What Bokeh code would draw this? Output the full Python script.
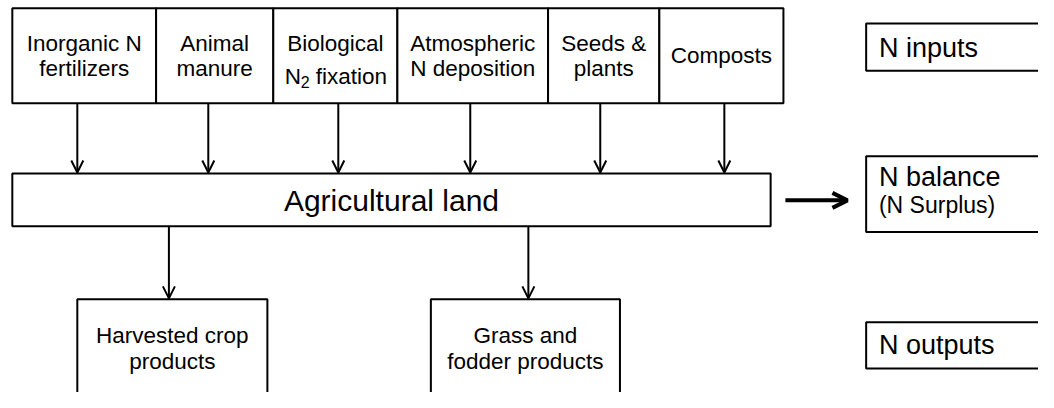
from bokeh.plotting import figure
from bokeh.models import Range1d, Arrow, OpenHead, ColumnDataSource
from bokeh.core.properties import value
from bokeh.embed import file_html
from bokeh.resources import INLINE

# ---- content ----
input_labels = ["Inorganic N\nfertilizers", "Animal\nmanure", "Biological\n", "Atmospheric\nN deposition",
                "Seeds &\nplants", "Composts"]
center_label = "Agricultural land"
output_labels = ["Harvested crop\nproducts", "Grass and\nfodder products"]
legend_labels = ["N inputs", "N balance", "N outputs"]
surplus_label = "(N Surplus)"

# ---- layout (pixel coordinates of the diagram) ----
input_edges = [12, 158, 277, 403, 556, 669, 795]
input_top, input_bottom = 8, 107
input_arrow_x = [78, 211, 343, 477, 609, 735]
land_box = (12, 782, 180, 235)
out_boxes = [(78, 271), (437, 629)]
out_top, out_bottom = 311, 430
out_arrow_x = [171, 536]
legend_x = (879, 1070)
legend_y = [(24, 73), (162, 241), (335, 383)]

FONT = value("Liberation Sans")
p = figure(width=1038, height=392, x_range=Range1d(0, 1054), y_range=Range1d(408, 0),
           output_backend="svg", toolbar_location=None, min_border=0)
p.axis.visible = False
p.grid.visible = False
p.outline_line_color = None
p.background_fill_color = "white"
p.border_fill_color = "white"

# boxes
lefts = input_edges[:-1] + [land_box[0]] + [b[0] for b in out_boxes] + [legend_x[0]] * 3
rights = input_edges[1:] + [land_box[1]] + [b[1] for b in out_boxes] + [legend_x[1]] * 3
tops = [input_top] * 6 + [land_box[2]] + [out_top] * 2 + [y[0] for y in legend_y]
bottoms = [input_bottom] * 6 + [land_box[3]] + [out_bottom] * 2 + [y[1] for y in legend_y]
p.quad(left=lefts, right=rights, top=tops, bottom=bottoms,
       fill_color="white", line_color="black", line_width=2)

# arrows
ax0 = input_arrow_x + out_arrow_x
ay0 = [input_bottom] * 6 + [land_box[3]] * 2
ay1 = [land_box[2] - 1] * 6 + [out_top - 1] * 2
src = ColumnDataSource(dict(x0=ax0, x1=ax0, y0=ay0, y1=ay1))
p.add_layout(Arrow(end=OpenHead(size=12, line_width=2, line_color="black"),
                   x_start="x0", y_start="y0", x_end="x1", y_end="y1",
                   source=src, line_width=2, line_color="black"))
src2 = ColumnDataSource(dict(x0=[797], x1=[860], y0=[208], y1=[208]))
p.add_layout(Arrow(end=OpenHead(size=15, line_width=4, line_color="black"),
                   x_start="x0", y_start="y0", x_end="x1", y_end="y1",
                   source=src2, line_width=4, line_color="black"))

# input texts
FS = 22.5
LH = 26.5
tx, ty, tt = [], [], []
for i, lab in enumerate(input_labels):
    cx = (input_edges[i] + input_edges[i + 1]) / 2
    lines = [l for l in lab.split("\n")]
    if i == 2:
        lines = ["Biological", ""]
    n = len(lines)
    cy = (input_top + input_bottom) / 2
    for k, l in enumerate(lines):
        if l:
            tx.append(cx)
            ty.append(cy + (k - (n - 1) / 2) * LH)
            tt.append(l)
p.text(x=tx, y=ty, text=tt, text_align="center", text_baseline="middle",
       text_font=FONT, text_font_size=f"{FS}px", text_color="black")

# N2 fixation with subscript
cx = (input_edges[2] + input_edges[3]) / 2
base = (input_top + input_bottom) / 2 + LH / 2 + 0.716 * FS / 2
sub_fs = 16
w_total = 0.722 * FS + 0.556 * sub_fs + 0.278 * FS + 3.168 * FS
x0 = cx - w_total / 2
p.text(x=[x0], y=[base], text=["N"], text_align="left", text_baseline="alphabetic",
       text_font=FONT, text_font_size=f"{FS}px", text_color="black")
p.text(x=[x0 + 0.722 * FS], y=[base + 6], text=["2"], text_align="left", text_baseline="alphabetic",
       text_font=FONT, text_font_size=f"{sub_fs}px", text_color="black")
p.text(x=[x0 + 0.722 * FS + 0.556 * sub_fs + 0.278 * FS], y=[base], text=["fixation"],
       text_align="left", text_baseline="alphabetic",
       text_font=FONT, text_font_size=f"{FS}px", text_color="black")

# central box
p.text(x=[(land_box[0] + land_box[1]) / 2], y=[(land_box[2] + land_box[3]) / 2 + 1], text=[center_label],
       text_align="center", text_baseline="middle", text_font=FONT, text_font_size="30px",
       text_color="black")

# output texts
ox, oy, ot = [], [], []
for (l0, r0), lab in zip(out_boxes, output_labels):
    lines = lab.split("\n")
    for k, l in enumerate(lines):
        ox.append((l0 + r0) / 2)
        oy.append(362 + (k - 0.5) * LH)
        ot.append(l)
p.text(x=ox, y=oy, text=ot, text_align="center", text_baseline="middle",
       text_font=FONT, text_font_size=f"{FS}px", text_color="black")

# legend boxes
lx = legend_x[0] + 13
p.text(x=[lx, lx, lx], y=[49, 184, 359], text=legend_labels, text_align="left", text_baseline="middle",
       text_font=FONT, text_font_size="27px", text_color="black")
p.text(x=[lx], y=[213], text=[surplus_label], text_align="left", text_baseline="middle",
       text_font=FONT, text_font_size="23px", text_color="black")

open("out.html", "w").write(file_html(p, INLINE))
